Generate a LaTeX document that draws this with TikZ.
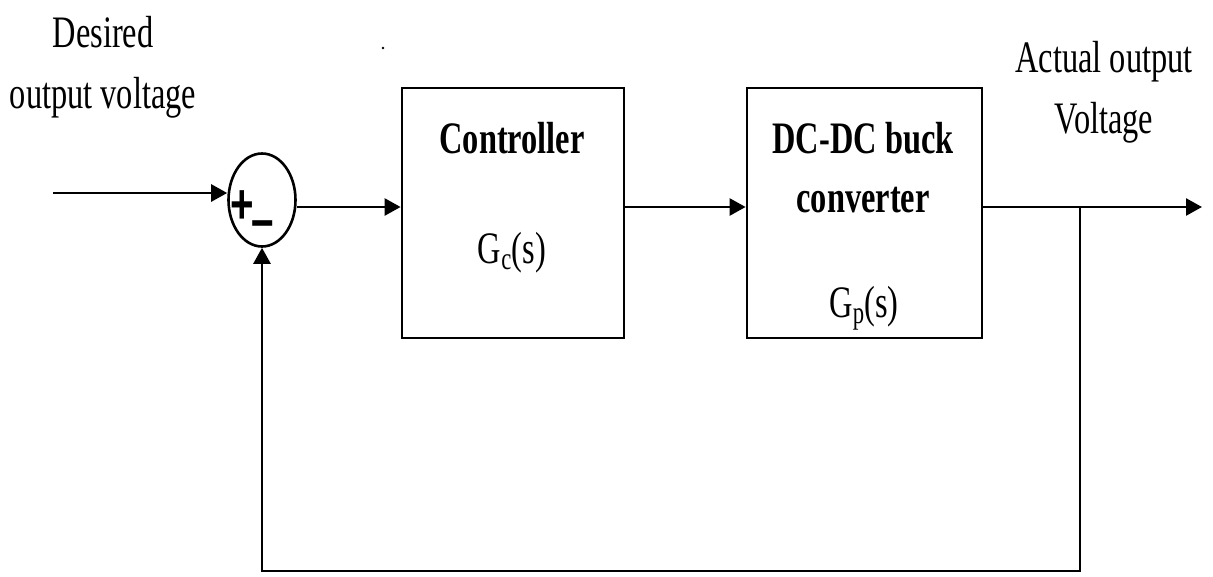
\documentclass[tikz,border=0pt]{standalone}
\usepackage{fontspec}
\setmainfont{Liberation Serif}
\newfontfamily\signfont{Liberation Sans}
\usetikzlibrary{arrows.meta,shapes.geometric}
\newcommand{\nar}[1]{\scalebox{0.72}[1]{#1}}
\begin{document}
\begin{tikzpicture}[x=1pt,y=-1pt,
  wire/.style={line width=2.6pt},
  arr/.style={wire,-{Triangle[length=16pt,width=17pt]}},
  blk/.style={draw,line width=2.8pt,minimum height=250pt,inner sep=0pt},
  lbl/.style={font=\fontsize{45}{61}\selectfont,inner sep=0pt,align=center},
  btxt/.style={font=\fontsize{45}{61}\selectfont\bfseries,inner sep=0pt,anchor=base},
  gtxt/.style={font=\fontsize{45}{61}\selectfont,inner sep=0pt,anchor=base},
  sign/.style={font=\fontsize{56}{56}\signfont\bfseries,inner sep=0pt}
]
\useasboundingbox (0,0) rectangle (1213,576);

% summing junction
\node[draw,ellipse,line width=2.6pt,minimum width=67pt,minimum height=93pt,inner sep=0pt] (sum) at (262,200) {};
\node[sign] (plus) at (242,207) {\nar{+}};
\node[sign] (minus) at (263,230) {\nar{–}};

% blocks
\node[blk,minimum width=222pt] (ctrl) at (513,213) {};
\node[blk,minimum width=235pt] (dc) at (864.5,213) {};

% block texts
\node[btxt] (ctrlname) at (512,153) {\nar{Controller}};
\node[gtxt] (gc) at (512,263) {\nar{G\textsubscript{c}(s)}};
\node[btxt] (dcname1) at (863,153) {\nar{DC-DC buck}};
\node[btxt] (dcname2) at (863,212) {\nar{converter}};
\node[gtxt] (gp) at (864,317) {\nar{G\textsubscript{p}(s)}};

% outside labels
\node[lbl,anchor=base] (desired) at (103,108) {\nar{Desired}\\\nar{output voltage}};
\node[lbl,anchor=base] (actual) at (1104,133) {\nar{Actual output}\\\nar{Voltage}};

% coordinates
\coordinate (in) at (53,193);
\coordinate (lvl) at (0,207);
\coordinate (out) at (1202,207);
\coordinate (br) at (1080,207);
\coordinate (bot) at (0,571);

% connectors
\draw[arr] (in) -- (in -| sum.west);
\draw[arr] (sum.east |- lvl) -- (ctrl.west |- lvl);
\draw[arr] (ctrl.east |- lvl) -- (dc.west |- lvl);
\draw[arr] (dc.east |- lvl) -- (out);
\draw[arr] (br) -- (br |- bot) -| (sum.south);

% stray dot
\fill (383,48) circle (1.4pt);
\end{tikzpicture}
\end{document}
